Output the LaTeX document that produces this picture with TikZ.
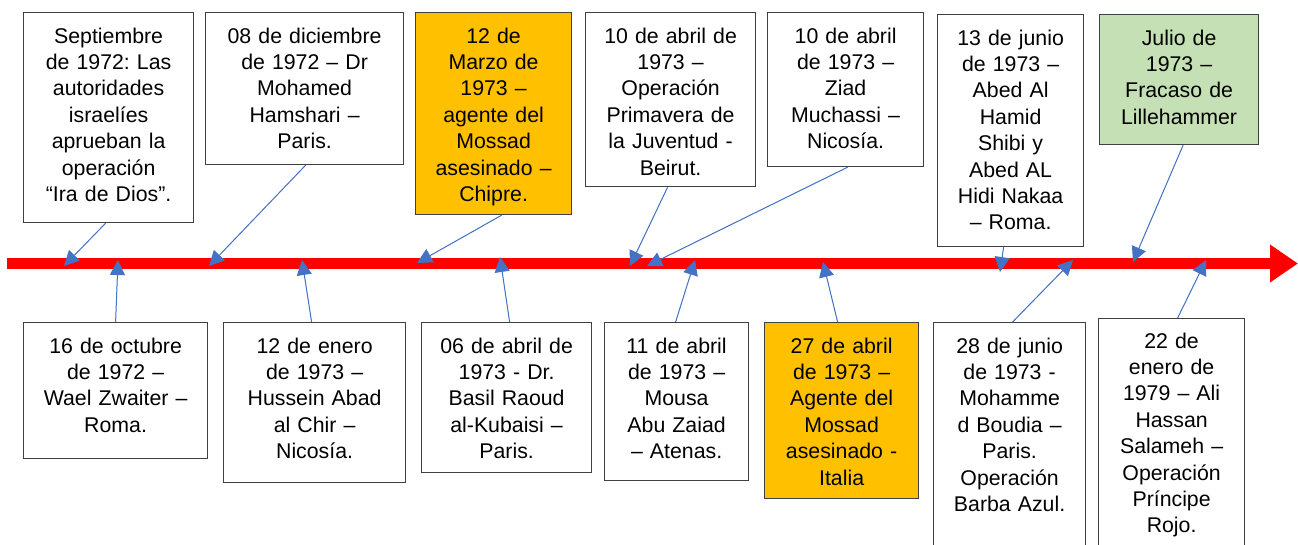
\documentclass[tikz,border=0pt]{standalone}
\usepackage{fontspec}
\setmainfont{Liberation Sans}
\usetikzlibrary{arrows.meta,calc}
\frenchspacing
\definecolor{orangebox}{HTML}{FFC000}
\definecolor{greenbox}{HTML}{C5E0B4}
\definecolor{connblue}{HTML}{4472C4}
\definecolor{boxline}{HTML}{404040}
\tikzset{
  box/.style={draw=boxline, line width=1.2pt, rectangle, inner sep=0pt, anchor=north west},
  txt/.style={text width=220pt, align=center, inner sep=0pt, anchor=base, font=\fontsize{21.3}{26.4}\selectfont},
  conn/.style={draw=connblue, line width=1pt, -{Triangle[length=15pt,width=15pt]}, fill=connblue},
  timeline/.style={draw=red, line width=11pt, -{Triangle[length=28pt,width=36pt]}}
}
\begin{document}
\begin{tikzpicture}[x=1pt,y=-1pt]
\useasboundingbox (0,0) rectangle (1298,544);
\clip (0,0) rectangle (1298,544);
% timeline
\coordinate (tl0) at (7,263.5);
\coordinate (tl1) at (1298,263.5);
\draw[timeline] (tl0) -- (tl1);
% top boxes
\node[box, minimum width=170pt, minimum height=210pt] (t1) at (23,12) {};
\node[box, minimum width=198pt, minimum height=152pt] (t2) at (205,12) {};
\node[box, fill=orangebox, minimum width=156pt, minimum height=202pt] (t3) at (415,12) {};
\node[box, minimum width=170pt, minimum height=174pt] (t4) at (585,12) {};
\node[box, minimum width=156pt, minimum height=154pt] (t5) at (767,12) {};
\node[box, minimum width=146pt, minimum height=232pt] (t6) at (937,14) {};
\node[box, fill=greenbox, minimum width=159pt, minimum height=130pt] (t7) at (1099,14) {};
% bottom boxes
\node[box, minimum width=184pt, minimum height=136pt] (b1) at (23,322) {};
\node[box, minimum width=182pt, minimum height=160pt] (b2) at (223,322) {};
\node[box, minimum width=170pt, minimum height=150pt] (b3) at (421,322) {};
\node[box, minimum width=144pt, minimum height=158pt] (b4) at (604,322) {};
\node[box, fill=orangebox, minimum width=154pt, minimum height=176pt] (b5) at (764,322) {};
\node[box, minimum width=152pt, minimum height=250pt] (b6) at (933,322) {};
\node[box, minimum width=146pt, minimum height=254pt] (b7) at (1098,318) {};
% texts
\node[txt] (t1x) at ([yshift=-31pt]t1.north) {Septiembre\\de 1972: Las\\autoridades\\israelíes\\aprueban la\\operación\\“Ira de Dios”.};
\node[txt] (t2x) at ([yshift=-31pt]t2.north) {08 de diciembre\\de 1972 – Dr\\Mohamed\\Hamshari –\\Paris.};
\node[txt] (t3x) at ([yshift=-31pt]t3.north) {12 de\\Marzo de\\1973 –\\agente del\\Mossad\\asesinado –\\Chipre.};
\node[txt] (t4x) at ([yshift=-31pt]t4.north) {10 de abril de\\1973 –\\Operación\\Primavera de\\la Juventud -\\Beirut.};
\node[txt] (t5x) at ([yshift=-31pt]t5.north) {10 de abril\\de 1973 –\\Ziad\\Muchassi –\\Nicosía.};
\node[txt] (t6x) at ([yshift=-31pt]t6.north) {13 de junio\\de 1973 –\\Abed Al\\Hamid\\Shibi y\\Abed AL\\Hidi Nakaa\\– Roma.};
\node[txt] (t7x) at ([yshift=-31pt]t7.north) {Julio de\\1973 –\\Fracaso de\\Lillehammer};
\node[txt] (b1x) at ([yshift=-31pt]b1.north) {16 de octubre\\de 1972 –\\Wael Zwaiter –\\Roma.};
\node[txt] (b2x) at ([yshift=-31pt]b2.north) {12 de enero\\de 1973 –\\Hussein Abad\\al Chir –\\Nicosía.};
\node[txt] (b3x) at ([yshift=-31pt]b3.north) {06 de abril de\\1973 - Dr.\\Basil Raoud\\al-Kubaisi –\\Paris.};
\node[txt] (b4x) at ([yshift=-31pt]b4.north) {11 de abril\\de 1973 –\\Mousa\\Abu Zaiad\\– Atenas.};
\node[txt] (b5x) at ([yshift=-31pt]b5.north) {27 de abril\\de 1973 –\\Agente del\\Mossad\\asesinado -\\Italia};
\node[txt] (b6x) at ([yshift=-31pt]b6.north) {28 de junio\\de 1973 -\\Mohamme\\d Boudia –\\Paris.\\Operación\\Barba Azul.};
\node[txt] (b7x) at ([yshift=-30pt]b7.north) {22 de\\enero de\\1979 – Ali\\Hassan\\Salameh –\\Operación\\Príncipe\\Rojo.};
% connector targets on the timeline
\coordinate (a1) at (64,266);
\coordinate (a2) at (209,266);
\coordinate (a3) at (417,263);
\coordinate (a4) at (630,266);
\coordinate (a5) at (647,266);
\coordinate (a6) at (1000,272);
\coordinate (a7) at (1133,262);
\coordinate (c1) at (118,260);
\coordinate (c2) at (302,260);
\coordinate (c3) at (500,257);
\coordinate (c4) at (695,260);
\coordinate (c5) at (823,262);
\coordinate (c6) at (1073,260);
\coordinate (c7) at (1206,260);
% connectors
\draw[conn] ([xshift=-3pt]t1.south) -- (a1);
\draw[conn] ([xshift=1pt]t2.south) -- (a2);
\draw[conn] ([xshift=8pt]t3.south) -- (a3);
\draw[conn] ([xshift=-3pt]t4.south) -- (a4);
\draw[conn] ([xshift=2pt]t5.south) -- (a5);
\draw[conn] ([xshift=-7pt]t6.south) -- (a6);
\draw[conn] ([xshift=4pt]t7.south) -- (a7);
\draw[conn] ([xshift=0pt]b1.north) -- (c1);
\draw[conn] ([xshift=-3pt]b2.north) -- (c2);
\draw[conn] ([xshift=3pt]b3.north) -- (c3);
\draw[conn] ([xshift=-1pt]b4.north) -- (c4);
\draw[conn] ([xshift=-4pt]b5.north) -- (c5);
\draw[conn] ([xshift=3pt]b6.north) -- (c6);
\draw[conn] ([xshift=6pt]b7.north) -- (c7);
\end{tikzpicture}
\end{document}
